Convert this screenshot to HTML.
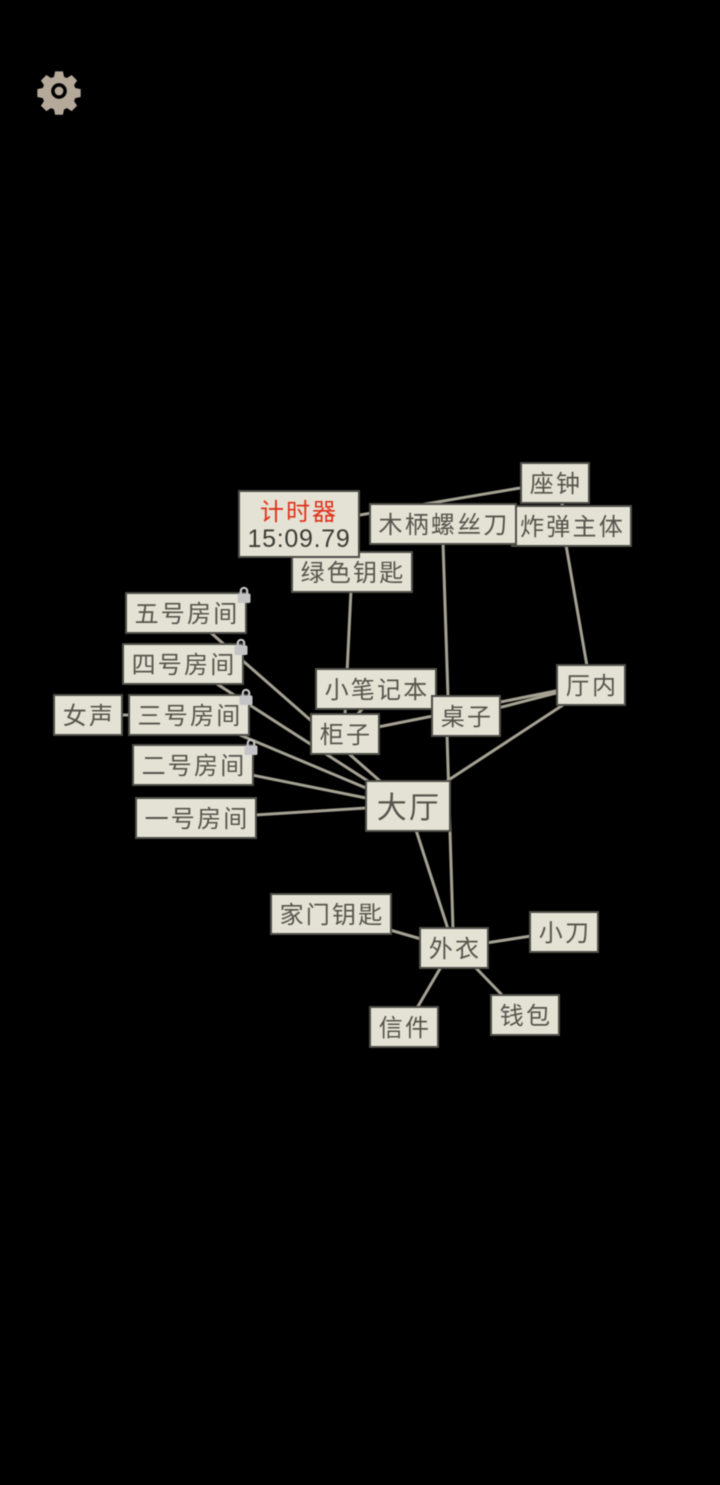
<!DOCTYPE html>
<html><head><meta charset="utf-8"><style>
html,body{margin:0;padding:0;background:#000;}
#p{position:relative;width:720px;height:1485px;background:#000;overflow:hidden;font-family:"WenQuanYi Zen Hei","Noto Sans CJK SC",sans-serif;filter:blur(.45px);}
svg{position:absolute;left:0;top:0;}
.n{position:absolute;box-sizing:border-box;background:#e4e2d4;border:2px solid #4e4e48;display:flex;align-items:center;justify-content:center;color:#55554d;font-size:24px;letter-spacing:2.2px;line-height:1;white-space:nowrap;padding-left:2px;padding-bottom:3px;}
.l{position:absolute;width:14px;height:18px;}
</style></head><body><div id="p">
<svg width="720" height="1485" viewBox="0 0 720 1485">
<g stroke="#a5a193" stroke-width="3" fill="none">
<line x1="520" y1="488" x2="360" y2="515"/>
<line x1="560" y1="500" x2="564" y2="508"/>
<line x1="566" y1="545" x2="587" y2="666"/>
<line x1="443" y1="542" x2="448" y2="697"/>
<line x1="447" y1="734" x2="453" y2="929"/>
<line x1="351" y1="590" x2="345" y2="715"/>
<line x1="363" y1="708" x2="357" y2="715"/>
<line x1="210" y1="632" x2="380" y2="781"/>
<line x1="217" y1="684" x2="371" y2="783"/>
<line x1="240" y1="735" x2="366" y2="788"/>
<line x1="252" y1="775" x2="366" y2="798"/>
<line x1="255" y1="815" x2="366" y2="808"/>
<line x1="378" y1="727" x2="433" y2="716"/>
<line x1="498" y1="702.500" x2="558" y2="690.500"/>
<line x1="498" y1="708" x2="558" y2="692.500"/>
<line x1="447" y1="781" x2="563" y2="705"/>
<line x1="416" y1="830" x2="448" y2="929"/>
<line x1="390" y1="930" x2="421" y2="939"/>
<line x1="486" y1="943" x2="531" y2="936"/>
<line x1="417" y1="1008" x2="441" y2="967"/>
<line x1="503" y1="996" x2="475" y2="967"/>
<line x1="120" y1="715" x2="130" y2="715"/>
</g>
<g transform="translate(59 91) scale(.87) translate(-59 -92)">
<path fill="#b5aa9a" fill-rule="evenodd" d="M54.500 69.500h9l1.300 6.200 3.400 1.400 5.300-3.500 6.300 6.300-3.500 5.300 1.400 3.400 6.200 1.300v9l-6.200 1.300-1.400 3.400 3.500 5.300-6.300 6.300-5.300-3.500-3.400 1.400-1.300 6.200h-9l-1.300-6.200-3.400-1.400-5.300 3.500-6.300-6.300 3.500-5.300-1.400-3.400-6.200-1.300v-9l6.200-1.300 1.400-3.400-3.500-5.300 6.300-6.300 5.300 3.500 3.400-1.400z M59 83a9 9 0 1 0 0 18a9 9 0 1 0 0-18z"/>
<circle cx="59" cy="92" r="5" fill="#b5aa9a"/>
</g>
</svg>

<div class="n" style="left:520px;top:462px;width:70px;height:42px">座钟</div>
<div class="n" style="left:511px;top:505px;width:121px;height:42px">炸弹主体</div>
<div class="n" style="left:369px;top:503px;width:148px;height:42px">木柄螺丝刀</div>
<div class="n" style="left:291px;top:551px;width:122px;height:42px">绿色钥匙</div>
<div class="n" style="left:238px;top:490px;width:122px;height:68px;flex-direction:column;padding:0 0 4px 0;letter-spacing:0">
<div style="color:#e0321c;font-size:24px;letter-spacing:2px;line-height:29px;height:29px;padding-top:3px">计时器</div>
<div style="color:#3c3c36;font-family:'Liberation Sans',sans-serif;font-size:25px;letter-spacing:.7px;line-height:28px;height:28px;padding-top:1px">15:09.79</div></div>
<div class="n" style="left:125px;top:592px;width:122px;height:42px">五号房间</div>
<div class="n" style="left:122px;top:643px;width:122px;height:42px">四号房间</div>
<div class="n" style="left:128px;top:694px;width:122px;height:42px">三号房间</div>
<div class="n" style="left:53px;top:694px;width:70px;height:42px">女声</div>
<div class="n" style="left:132px;top:744px;width:122px;height:42px">二号房间</div>
<div class="n" style="left:135px;top:797px;width:122px;height:42px">一号房间</div>
<div class="n" style="left:315px;top:668px;width:122px;height:42px">小笔记本</div>
<div class="n" style="left:310px;top:713px;width:70px;height:42px">柜子</div>
<div class="n" style="left:431px;top:695px;width:70px;height:42px">桌子</div>
<div class="n" style="left:556px;top:664px;width:70px;height:42px">厅内</div>
<div class="n" style="left:365px;top:780px;width:86px;height:52px;font-size:30px">大厅</div>
<div class="n" style="left:270px;top:893px;width:122px;height:42px">家门钥匙</div>
<div class="n" style="left:419px;top:927px;width:70px;height:42px">外衣</div>
<div class="n" style="left:529px;top:911px;width:70px;height:42px">小刀</div>
<div class="n" style="left:369px;top:1006px;width:70px;height:42px">信件</div>
<div class="n" style="left:490px;top:994px;width:70px;height:42px">钱包</div>

<svg class="l" style="left:237px;top:586px" viewBox="0 0 14 18"><path d="M3.800 9V5a3.200 3.200 0 0 1 6.400 0v4" fill="none" stroke="#c4c4c6" stroke-width="2.200"/><rect x=".5" y="7.500" width="13" height="9.500" rx="1.500" fill="#c4c4c6"/></svg>
<svg class="l" style="left:234px;top:638px" viewBox="0 0 14 18"><path d="M3.800 9V5a3.200 3.200 0 0 1 6.400 0v4" fill="none" stroke="#c4c4c6" stroke-width="2.200"/><rect x=".5" y="7.500" width="13" height="9.500" rx="1.500" fill="#c4c4c6"/></svg>
<svg class="l" style="left:239px;top:688px" viewBox="0 0 14 18"><path d="M3.800 9V5a3.200 3.200 0 0 1 6.400 0v4" fill="none" stroke="#c4c4c6" stroke-width="2.200"/><rect x=".5" y="7.500" width="13" height="9.500" rx="1.500" fill="#c4c4c6"/></svg>
<svg class="l" style="left:244px;top:738px" viewBox="0 0 14 18"><path d="M3.800 9V5a3.200 3.200 0 0 1 6.400 0v4" fill="none" stroke="#c4c4c6" stroke-width="2.200"/><rect x=".5" y="7.500" width="13" height="9.500" rx="1.500" fill="#c4c4c6"/></svg>
</div></body></html>
